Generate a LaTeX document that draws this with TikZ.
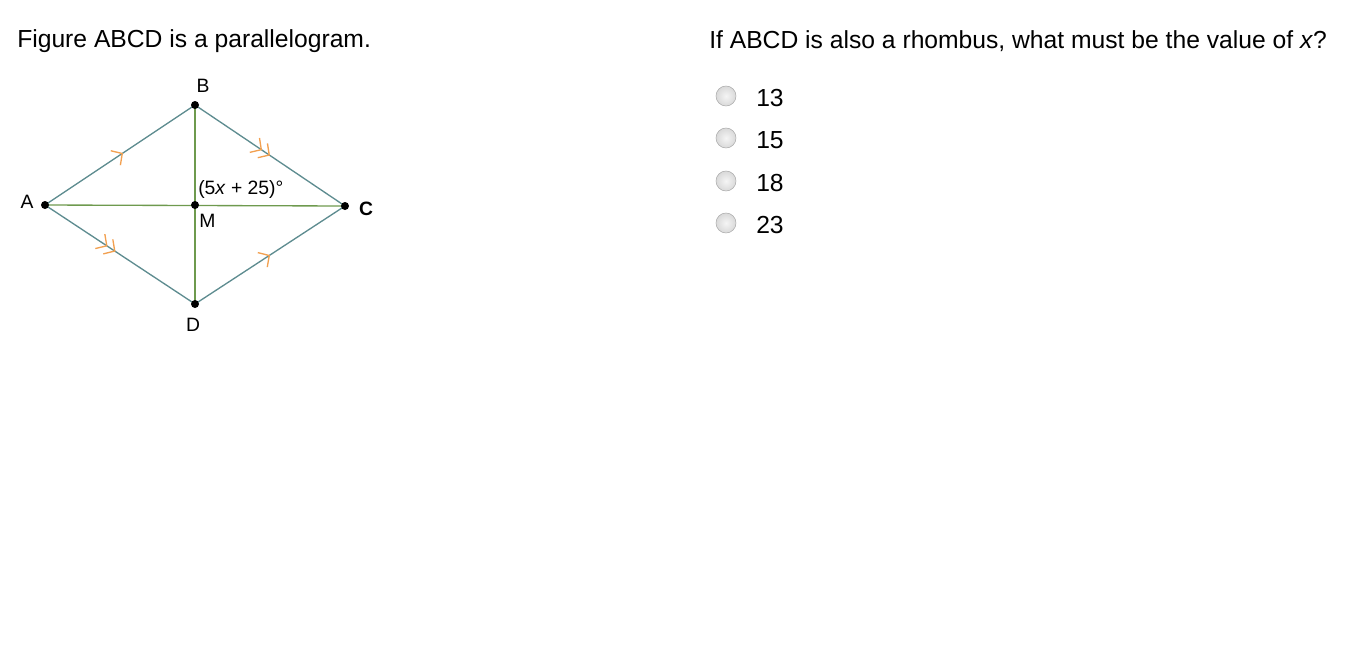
\documentclass[tikz,border=0pt]{standalone}
\usepackage{fontspec}
\setmainfont{Liberation Sans}
\usetikzlibrary{arrows.meta,decorations.markings}

\definecolor{sidecol}{HTML}{5E8C90}
\definecolor{diagcol}{HTML}{6E9A4E}
\definecolor{tickcol}{HTML}{F2A050}

\begin{document}
\begin{tikzpicture}[x=0.75pt, y=-0.75pt,
  side/.style={draw=sidecol, line width=1pt},
  diag/.style={draw=diagcol, line width=1pt},
  onetick/.style={postaction={decorate, decoration={markings,
    mark=at position #1 with {\arrow[tickcol, line width=1pt]{Straight Barb[length=6pt,width=13pt]}}}}},
  twotick/.style={postaction={decorate, decoration={markings,
    mark=at position #1 with {\arrow[tickcol, line width=1pt]{Straight Barb[length=6pt,width=13pt] Straight Barb[length=6pt,width=13pt]}}}}},
  pt/.style={circle, fill=black, inner sep=0pt, minimum size=6pt},
  lbl/.style={font=\fontsize{14.5}{16}\selectfont},
  txt/.style={font=\fontsize{18.5}{21}\selectfont, anchor=west, inner sep=0pt},
  radio/.style={circle, draw=gray!65, inner color=gray!8, outer color=gray!30, minimum size=15pt, inner sep=0pt}]
\useasboundingbox (0,0) rectangle (1369,651);

% texts
\node[txt] (title) at (17,41) {Figure ABCD is a parallelogram.};
\node[txt] (quest) at (709,41) {If ABCD is also a rhombus, what must be the value of \textit{x}?};

% rhombus
\coordinate (A) at (45,205);
\coordinate (B) at (195,105);
\coordinate (C) at (345,206);
\coordinate (D) at (195,304);
\coordinate (M) at (195,205);

\draw[diag] (A) -- (C);
\draw[diag] (B) -- (D);
\draw[side, onetick=0.52] (A) -- (B);
\draw[side, twotick=0.5] (B) -- (C);
\draw[side, twotick=0.47] (A) -- (D);
\draw[side, onetick=0.5] (D) -- (C);

\foreach \p in {A,B,C,D,M} \node[pt] at (\p) {};

\node[lbl] (la) at (27,202) {A};
\node[lbl] (lb) at (203,86) {B};
\node[lbl] (lc) at (366,209) {\textbf{C}};
\node[lbl] (ld) at (193,325) {D};
\node[lbl, anchor=west, inner sep=0pt] (lm) at (199,221) {M};
\node[lbl, anchor=west, inner sep=0pt] (ang) at (198,189) {(5\textit{x} + 25)°};

% choices
\foreach \y/\v [count=\i] in {96/13,138/15,181/18,223/23} {
  \node[radio] (r\i) at (726,\y) {};
  \node[txt] (c\i) at (756,\y+2) {\v};
}
\end{tikzpicture}
\end{document}
